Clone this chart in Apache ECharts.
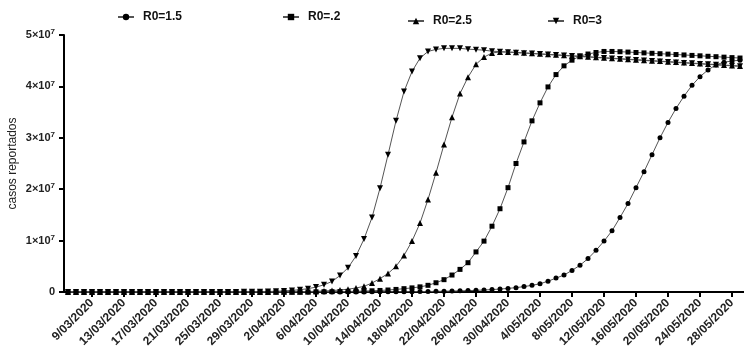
<!DOCTYPE html>
<html>
<head>
<meta charset="utf-8">
<script src="https://cdn.jsdelivr.net/npm/echarts@6.0.0/dist/echarts.min.js"></script>
<style>
html,body{margin:0;padding:0;background:#fff;}
#chart{width:744px;height:347px;}
</style>
</head>
<body>
<div id="chart"></div>
<script>
// Daily categories (6/03/2020 .. 29/05/2020)
const categories = [
'6/03/2020','7/03/2020','8/03/2020','9/03/2020','10/03/2020','11/03/2020','12/03/2020','13/03/2020','14/03/2020','15/03/2020',
'16/03/2020','17/03/2020','18/03/2020','19/03/2020','20/03/2020','21/03/2020','22/03/2020','23/03/2020','24/03/2020','25/03/2020',
'26/03/2020','27/03/2020','28/03/2020','29/03/2020','30/03/2020','31/03/2020',
'1/04/2020','2/04/2020','3/04/2020','4/04/2020','5/04/2020','6/04/2020','7/04/2020','8/04/2020','9/04/2020','10/04/2020',
'11/04/2020','12/04/2020','13/04/2020','14/04/2020','15/04/2020','16/04/2020','17/04/2020','18/04/2020','19/04/2020','20/04/2020',
'21/04/2020','22/04/2020','23/04/2020','24/04/2020','25/04/2020','26/04/2020','27/04/2020','28/04/2020','29/04/2020','30/04/2020',
'1/05/2020','2/05/2020','3/05/2020','4/05/2020','5/05/2020','6/05/2020','7/05/2020','8/05/2020','9/05/2020','10/05/2020',
'11/05/2020','12/05/2020','13/05/2020','14/05/2020','15/05/2020','16/05/2020','17/05/2020','18/05/2020','19/05/2020','20/05/2020',
'21/05/2020','22/05/2020','23/05/2020','24/05/2020','25/05/2020','26/05/2020','27/05/2020','28/05/2020','29/05/2020'
];

// Series values in millions of reported cases (1 unit = 1×10^6)
const seriesNames = ['R0=1.5', 'R0=.2', 'R0=2.5', 'R0=3'];

const r15 = [
0.0001,0.0001,0.0001,0.0001,0.0001,0.0001,0.0001,0.0001,0.0002,0.0002,
0.0002,0.0002,0.0003,0.0003,0.0003,0.0004,0.0005,0.0006,0.0007,0.0008,
0.001,0.0012,0.0014,0.0017,0.002,0.0024,0.0028,0.0034,0.004,0.005,
0.006,0.007,0.0085,0.010,0.0125,0.015,0.018,0.022,0.027,0.033,
0.040,0.048,0.058,0.070,0.085,0.10,0.125,0.15,0.18,0.22,
0.27,0.32,0.39,0.47,0.57,0.70,0.85,1.05,1.3,1.6,
2.1,2.7,3.3,4.2,5.2,6.5,8.1,9.9,11.9,14.5,
17.2,20.3,23.4,26.7,30.0,33.0,35.7,38.1,40.2,41.9,
43.2,44.2,44.7,44.95,45.1
];

const r20 = [
0.0001,0.0001,0.0001,0.0001,0.0001,0.0001,0.0001,0.0001,0.0002,0.0002,
0.0003,0.0003,0.0004,0.0005,0.0006,0.0008,0.001,0.0012,0.0016,0.002,
0.0026,0.0034,0.0043,0.0055,0.007,0.009,0.012,0.015,0.019,0.025,
0.032,0.041,0.052,0.067,0.086,0.11,0.14,0.18,0.235,0.30,
0.39,0.5,0.65,0.8,1.0,1.3,1.8,2.4,3.3,4.4,
5.7,7.8,9.9,12.8,16.2,20.3,25.0,29.2,33.3,36.8,
39.9,42.3,44.0,45.1,45.9,46.3,46.6,46.8,46.8,46.75,
46.68,46.6,46.52,46.44,46.36,46.28,46.2,46.12,46.03,45.95,
45.86,45.78,45.69,45.6,45.52
];

const r25 = [
0.0001,0.0001,0.0001,0.0001,0.0001,0.0001,0.0001,0.0001,0.0001,0.0002,
0.0002,0.0002,0.0003,0.0004,0.0006,0.0008,0.001,0.0014,0.002,0.0027,
0.0037,0.005,0.007,0.010,0.014,0.019,0.027,0.037,0.052,0.072,
0.10,0.14,0.20,0.28,0.39,0.55,0.78,1.1,1.75,2.6,
3.6,5.0,7.1,9.9,13.4,18.0,23.2,28.7,34.0,38.6,
41.8,44.3,45.7,46.5,46.7,46.7,46.62,46.53,46.44,46.34,
46.25,46.15,46.06,45.96,45.87,45.77,45.68,45.58,45.49,45.39,
45.3,45.2,45.11,45.01,44.92,44.82,44.73,44.63,44.54,44.44,
44.35,44.25,44.16,44.06,43.97
];

const r30 = [
0.0001,0.0001,0.0001,0.0001,0.0001,0.0001,0.0001,0.0002,0.0002,0.0003,
0.0004,0.0005,0.0008,0.0011,0.0016,0.0023,0.0034,0.005,0.007,0.010,
0.015,0.022,0.032,0.047,0.068,0.10,0.145,0.21,0.31,0.45,
0.65,0.95,1.4,2.05,3.2,4.7,7.0,10.3,14.5,20.2,
26.7,33.3,39.0,42.9,45.5,46.8,47.2,47.4,47.4,47.4,
47.25,47.15,47.05,46.85,46.76,46.66,46.57,46.47,46.38,46.28,
46.19,46.09,46.0,45.9,45.81,45.71,45.62,45.52,45.43,45.33,
45.24,45.14,45.05,44.95,44.86,44.76,44.67,44.57,44.48,44.38,
44.29,44.19,44.1,44.0,43.9
];

// y tick labels: mantissa × 10^exponent
const yTickValues = [0, 10, 20, 30, 40, 50];
const yTickMantissa = ['0', '1×10', '2×10', '3×10', '4×10', '5×10'];
const yTickExponent = ['', '7', '7', '7', '7', '7'];
const firstLabelIndex = 3; // 9/03/2020
const labelStep = 4;

const FONT = 'Liberation Sans, Arial, sans-serif';
const chart = echarts.init(document.getElementById('chart'), null, {renderer: 'canvas'});

const showTick = (i) => i >= firstLabelIndex && (i - firstLabelIndex) % labelStep === 0;

function mkSeries(name, data, symbol, size, rot) {
  return {
    name: name,
    type: 'line',
    data: data,
    symbol: symbol,
    symbolSize: size,
    symbolRotate: rot || 0,
    showAllSymbol: true,
    lineStyle: {color: '#555', width: 1},
    itemStyle: {color: '#000'},
    emphasis: {disabled: true}
  };
}

function mkLegend(name, left, top) {
  return {
    data: [name],
    left: left, top: top,
    itemWidth: 16, itemHeight: 8,
    padding: 0,
    textStyle: {fontFamily: FONT, fontWeight: 'bold', fontSize: 12, color: '#111', padding: [0, 0, 0, 4]}
  };
}

chart.setOption({
  animation: false,
  backgroundColor: '#fff',
  legend: [
    mkLegend(seriesNames[0], 117, 11),
    mkLegend(seriesNames[1], 282, 11),
    mkLegend(seriesNames[2], 407, 15),
    mkLegend(seriesNames[3], 547, 15)
  ],
  grid: {left: 64, right: 0, top: 35, bottom: 55, containLabel: false, outerBoundsMode: 'none'},
  xAxis: {
    type: 'category',
    data: categories,
    boundaryGap: true,
    axisLine: {lineStyle: {color: '#000', width: 2}},
    axisTick: {show: true, alignWithLabel: true, interval: (i) => showTick(i), length: 5, lineStyle: {color: '#000', width: 2}},
    axisLabel: {
      interval: (i) => showTick(i),
      rotate: 45,
      margin: 9,
      fontFamily: FONT,
      fontWeight: 'bold',
      fontSize: 12,
      color: '#222'
    },
    splitLine: {show: false}
  },
  yAxis: {
    type: 'value',
    min: 0, max: 50, interval: 10,
    name: 'casos reportados',
    nameLocation: 'middle',
    nameGap: 45,
    nameMoveOverlap: false,
    nameTextStyle: {fontFamily: FONT, fontSize: 12, color: '#222'},
    axisLine: {show: true, lineStyle: {color: '#000', width: 2}},
    axisTick: {show: true, length: 5, lineStyle: {color: '#000', width: 2}},
    axisLabel: {
      margin: 9,
      formatter: (v) => {
        const k = yTickValues.indexOf(v);
        if (k < 0) return '';
        return yTickExponent[k] ? '{b|' + yTickMantissa[k] + '}{s|' + yTickExponent[k] + '}' : '{b|' + yTickMantissa[k] + '}';
      },
      rich: {
        b: {fontFamily: FONT, fontWeight: 'bold', fontSize: 11, color: '#222', lineHeight: 14},
        s: {fontFamily: FONT, fontWeight: 'bold', fontSize: 8, color: '#222', verticalAlign: 'top', lineHeight: 14, padding: [0, 0, 5, 0]}
      }
    },
    splitLine: {show: false}
  },
  series: [
    mkSeries(seriesNames[0], r15, 'circle', 5),
    mkSeries(seriesNames[1], r20, 'rect', 5),
    mkSeries(seriesNames[2], r25, 'triangle', 6),
    mkSeries(seriesNames[3], r30, 'triangle', 6, 180)
  ]
});
</script>
</body>
</html>
